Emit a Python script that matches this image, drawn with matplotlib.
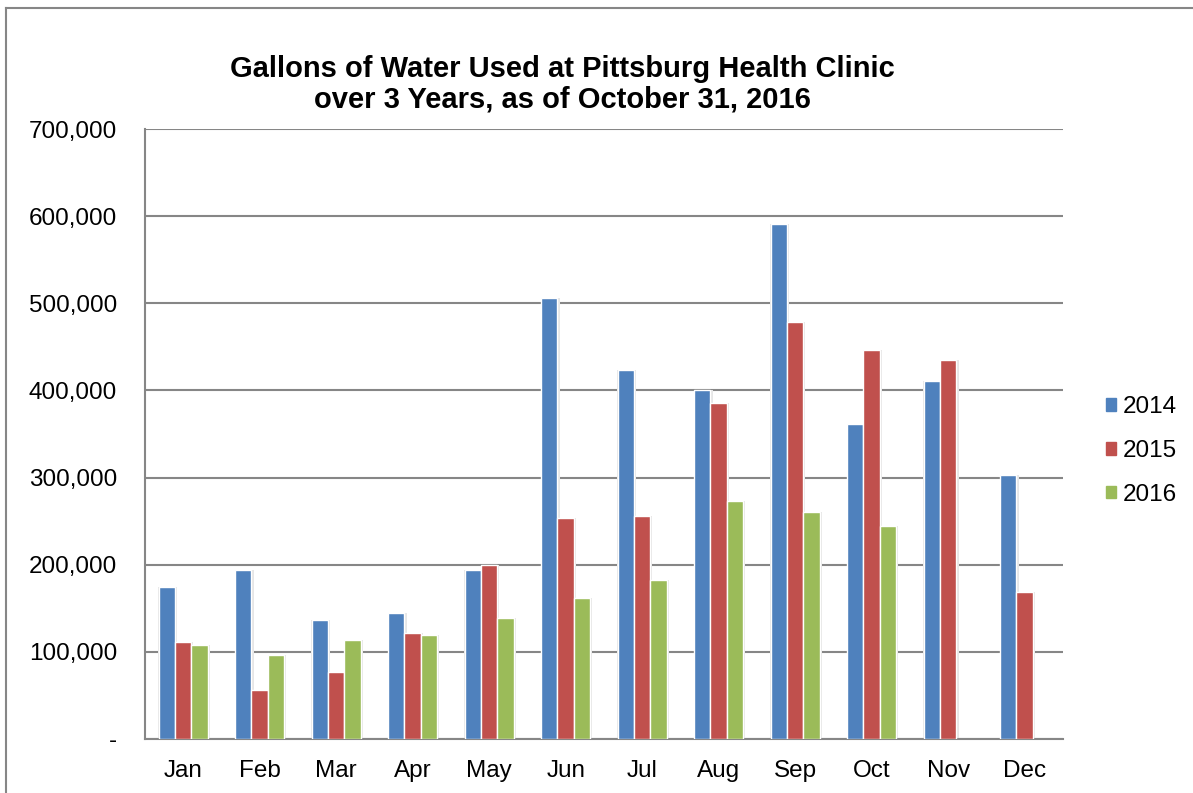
import numpy as np
import matplotlib.pyplot as plt
from matplotlib.lines import Line2D
from matplotlib.ticker import FuncFormatter

months = ["Jan", "Feb", "Mar", "Apr", "May", "Jun",
          "Jul", "Aug", "Sep", "Oct", "Nov", "Dec"]
years = ["2014", "2015", "2016"]
gal_2014 = [174000, 194000, 136000, 145000, 194000, 506000,
            423000, 401000, 591000, 361000, 411000, 303000]
gal_2015 = [111000, 56000, 77000, 122000, 200000, 254000,
            256000, 386000, 478000, 446000, 435000, 169000]
gal_2016 = [108000, 96000, 114000, 119000, 139000, 162000,
            183000, 273000, 261000, 245000, np.nan, np.nan]
colors = ["#4F81BD", "#C0504D", "#9BBB59"]

plt.rcParams["font.family"] = ["Liberation Sans", "DejaVu Sans"]

fig = plt.figure(figsize=(11.93, 7.93), dpi=100)
ax = fig.add_axes([0.1215, 0.0681, 0.7695, 0.7692])

x = np.arange(len(months))
w = 0.215
for i, (vals, c, lab) in enumerate(zip([gal_2014, gal_2015, gal_2016], colors, years)):
    off = (i - 1) * w
    # faint glow behind bars
    ax.bar(x + off + 0.012, vals, w + 0.03, color="#e6e6e6", zorder=2, linewidth=0)
    ax.bar(x + off, vals, w, color=c, edgecolor="white", linewidth=1.0,
           zorder=3, label=lab)

ax.set_xlim(-0.5, 11.5)
ax.set_ylim(0, 700000)
ax.set_yticks(np.arange(0, 700001, 100000))
ax.yaxis.set_major_formatter(FuncFormatter(lambda v, p: "-" if v == 0 else f"{int(v):,}"))
ax.set_xticks(x)
ax.set_xticklabels(months)
ax.tick_params(axis="y", length=0, pad=20, labelsize=17.5)
ax.tick_params(axis="x", length=0, pad=15, labelsize=17.5)
ax.grid(axis="y", color="#868686", linewidth=1.5, zorder=0)
ax.set_axisbelow(True)
for s in ["top", "right"]:
    ax.spines[s].set_visible(False)
for s in ["left", "bottom"]:
    ax.spines[s].set_color("#868686")
    ax.spines[s].set_linewidth(1.5)

fig.text(562 / 1193, 1 - 84 / 793,
         "Gallons of Water Used at Pittsburg Health Clinic\nover 3 Years, as of October 31, 2016",
         ha="center", va="center", fontsize=21, fontweight="bold", linespacing=1.12)

handles = [plt.Rectangle((0, 0), 1, 1, color=c) for c in colors]
fig.legend(handles, years, loc="center left", bbox_to_anchor=(1094 / 1193, 1 - 451 / 793),
           frameon=False, fontsize=17.5, handlelength=0.42, handleheight=0.42,
           handletextpad=0.25, labelspacing=0.9, borderpad=0)

# outer chart border
fig.add_artist(Line2D([6 / 1193, 6 / 1193], [0, 1 - 8 / 793], color="#868686", lw=1.5))
fig.add_artist(Line2D([6 / 1193, 1], [1 - 8 / 793, 1 - 8 / 793], color="#868686", lw=1.5))

fig.savefig("out.png", dpi=100)
